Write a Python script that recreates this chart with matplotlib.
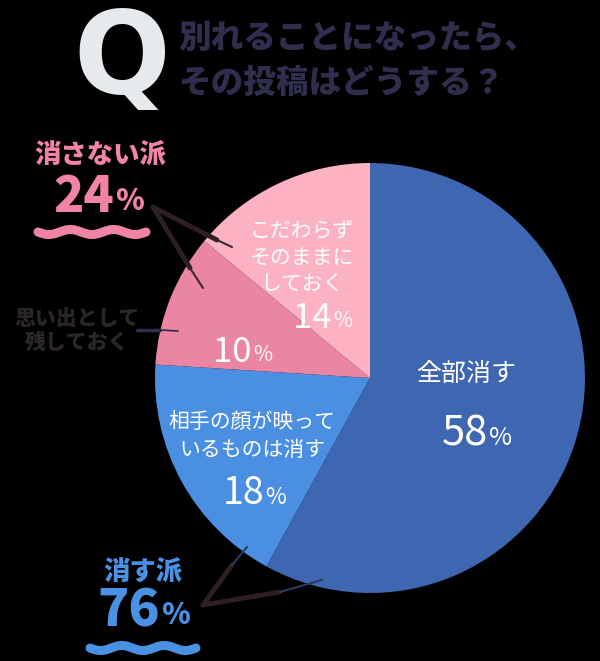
import matplotlib
matplotlib.use("Agg")
import matplotlib.pyplot as plt
import numpy as np

plt.rcParams['font.family'] = ['Noto Sans CJK JP', 'DejaVu Sans']

# ---- data ----
categories = ["全部消す", "相手の顔が映って\nいるものは消す", "思い出として\n残しておく", "こだわらず\nそのままに\nしておく"]
values = [58, 18, 10, 14]
inner_pct = ["58", "18", "10", "14"]
colors = ["#3e66b1", "#4a8fe2", "#ea86a4", "#fcb2c2"]
title_lines = ["別れることになったら、", "その投稿はどうする？"]
group_labels = ["消さない派", "消す派"]
group_values = ["24", "76"]
side_label = "思い出として\n残しておく"

W, H = 600, 661
fig = plt.figure(figsize=(6.0, 6.61), dpi=100, facecolor="black")
ax = fig.add_axes([0, 0, 1, 1])
ax.set_facecolor("black")

def Y(y):
    return H - y

cx, cy, R = 370, 378, 215
ax.pie(values, colors=colors, startangle=90, counterclock=False,
       center=(cx, Y(cy)), radius=R, wedgeprops=dict(linewidth=0))
ax.set_xlim(0, W)
ax.set_ylim(0, H)
ax.set_aspect('equal')
ax.axis('off')

white = "white"
def pct(x, y, num, size, color, weight='normal', psize=None):
    psize = psize or size * 0.6
    ax.text(x, Y(y), num, fontsize=size, color=color, ha='right', va='center',
            weight=weight, family=['Noto Sans CJK JP', 'DejaVu Sans'])
    ax.text(x + 1, Y(y) - size * 0.12, "%", fontsize=psize, color=color, ha='left',
            va='center', weight=weight, family=['Noto Sans CJK JP', 'DejaVu Sans'])

# inside labels
ax.text(466, Y(374), categories[0], fontsize=18, color=white, ha='center', va='center')
pct(488, 434, inner_pct[0], 30, white)
ax.text(252, Y(436), categories[1], fontsize=15, color=white, ha='center',
        va='center', linespacing=1.35)
pct(264, 494, inner_pct[1], 27, white)
pct(252, 352, inner_pct[2], 25, white)
ax.text(302, Y(258), categories[3], fontsize=15, color=white, ha='center',
        va='center', linespacing=1.3)
pct(332, 318, inner_pct[3], 25, white)

# title
ax.text(122, Y(62), "Q", fontsize=82, color="#e6e9ee", ha='center', va='center',
        weight='heavy', family=['DejaVu Sans'])
navy = "#2f2e4c"
ax.text(178, Y(38), title_lines[0], fontsize=23.5, color=navy, ha='left', va='center',
        weight='heavy')
ax.text(178, Y(83), title_lines[1], fontsize=23.5, color=navy, ha='left', va='center',
        weight='heavy')

# group labels
pink = "#f184a4"
blue = "#4b91e3"
ax.text(100, Y(155), group_labels[0], fontsize=19, color=pink, ha='center',
        va='center', weight='heavy')
pct(114, 197, group_values[0], 36, pink, weight='heavy', psize=21)
ax.text(143, Y(572), group_labels[1], fontsize=19, color=blue, ha='center',
        va='center', weight='heavy')
pct(160, 611, group_values[1], 37, blue, weight='heavy', psize=21)
ax.text(77, Y(331), side_label, fontsize=15, color="#2d2629", ha='center',
        va='center', weight='heavy', linespacing=1.2)

# wave underlines (decoration)
def wave(x0, x1, y, color):
    xs = np.linspace(x0, x1, 120)
    ys = y + 2.5 * np.sin((xs - x0) / (x1 - x0) * 5 * np.pi)
    ax.plot(xs, [Y(v) for v in ys], color=color, lw=6.5, solid_capstyle='round')

wave(38, 146, 232, pink)
wave(90, 196, 648, blue)

# leader lines
brown = "#2e2020"
thin = "#3a2b33"
def seg(p, q, color, lw):
    ax.plot([p[0], q[0]], [Y(p[1]), Y(q[1])], color=color, lw=lw,
            solid_capstyle='round')

seg((153, 207), (217, 240), brown, 3.5)
seg((217, 240), (232, 247), thin, 1.5)
seg((153, 207), (190, 268), brown, 3.5)
seg((190, 268), (203, 288), thin, 1.5)

seg((203, 605), (232, 565), brown, 3.5)
seg((232, 565), (247, 547), "#2d3a5a", 1.5)
seg((203, 605), (280, 592), brown, 3.5)
seg((280, 592), (322, 580), "#2d3a5a", 1.5)

seg((137, 330), (160, 330), "#2f2e4c", 2.5)
seg((160, 330), (178, 331), "#2f2e4c", 1.2)

fig.savefig("out.png", dpi=100, facecolor="black")
